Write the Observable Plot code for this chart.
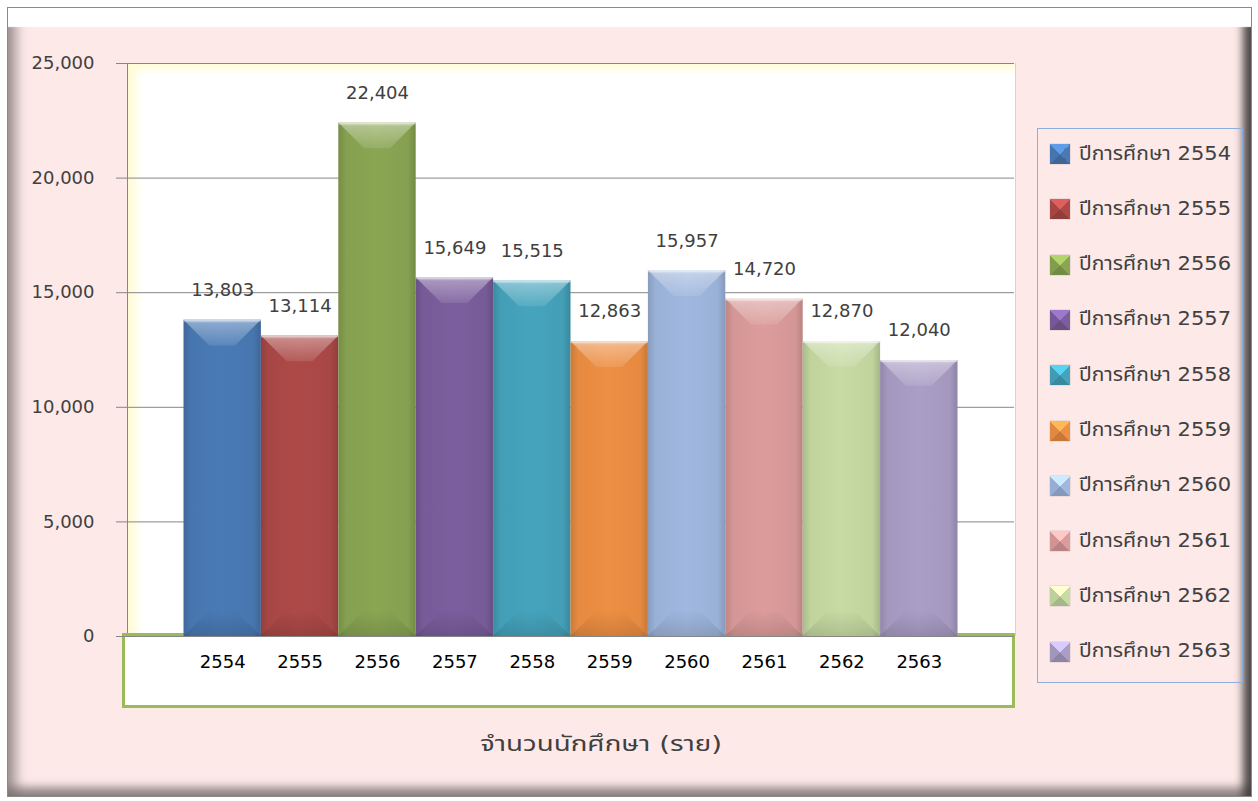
<!DOCTYPE html>
<html><head><meta charset="utf-8">
<script src="https://cdn.jsdelivr.net/npm/d3@7"></script>
<script src="https://cdn.jsdelivr.net/npm/@observablehq/plot@0.6"></script>
<style>
body{margin:0;width:1258px;height:801px;background:#fff;overflow:hidden;position:relative;font-family:"DejaVu Sans","Noto Sans Thai",Tahoma,sans-serif;}
#frame{position:absolute;left:7px;top:7px;width:1243px;height:788px;background:#fde9e8;border:1px solid #8a8a8a;
 box-shadow: inset 0 21px 1px -2px #ffffff, inset 16px 0 12px -8px rgba(120,110,110,0.7), inset -12px 0 8px -4px rgba(60,55,55,0.9), inset 0 -14px 8px -5px rgba(120,110,110,0.75);}
#plotbg{position:absolute;left:127px;top:63px;width:887px;height:573px;background:#fff;border-left:1px solid #868686;border-right:1px solid #d6d6c4;
 box-shadow: inset 14px 12px 10px -6px #fffbd6;}
#xbox{position:absolute;left:122px;top:633px;width:887px;height:69px;background:#fff;border:3px solid #9bbb59;}
#chart{position:absolute;left:0;top:0;}
#legend{position:absolute;left:1037px;top:128px;width:204px;height:553px;border:1px solid #8eaedb;}
.item{position:absolute;left:12px;height:24px;display:flex;align-items:center;font-size:19px;color:#404040;white-space:nowrap;}
.sw{width:20px;height:20px;margin-right:9px;box-shadow:0 0 1px rgba(0,0,0,0.4);}
.item span{display:inline-block;transform-origin:left center;}
#xtitle{position:absolute;left:0;width:1203px;top:728px;text-align:center;font-size:22px;color:#404040;}
#xtitle span{display:inline-block;}
</style></head>
<body>
<div id="frame"></div>
<div id="plotbg"></div>
<div id="xbox"></div>
<div id="chart"></div>
<div id="legend"></div>
<div id="xtitle"><span></span></div>
<script>
const years = ["2554","2555","2556","2557","2558","2559","2560","2561","2562","2563"];
const students = [13803, 13114, 22404, 15649, 15515, 12863, 15957, 14720, 12870, 12040];
const barColors = ["#4a7ab5","#ad4a47","#8aa653","#7b5e9e","#45a4bd","#ee8f43","#a0b7df","#dc9c9b","#c7dba3","#aa9ec6"];
const legendPrefix = "ปีการศึกษา";
const yTicks = [0, 5000, 10000, 15000, 20000, 25000];
const axisTitle = "จำนวนนักศึกษา (ราย)";

const data = years.map((y, i) => ({year: y, value: students[i]}));
const fmt = d3.format(",");
const fontFam = getComputedStyle(document.body).fontFamily;

const chart = Plot.plot({
  width: 1258, height: 801,
  marginLeft: 127, marginRight: 244, marginTop: 63, marginBottom: 165,
  style: {background: "transparent", fontFamily: fontFam},
  x: {domain: years, paddingInner: 0, paddingOuter: 0.73, round: false, axis: null, label: null},
  y: {domain: [0, 25000], axis: null, label: null},
  color: {domain: years, range: years.map((_, i) => `url(#bar${i})`)},
  marks: [
    Plot.gridY(yTicks, {stroke: "#868686", strokeOpacity: 1}),
    Plot.barY(data, {x: "year", y: "value", fill: "year"}),
    Plot.text(data, {x: "year", y: "value", text: d => fmt(d.value), dy: -30, fontSize: 18, fill: "#404040"}),
    Plot.axisY(yTicks, {tickSize: 11, tickPadding: 22, tickFormat: fmt, fontSize: 18, stroke: "#868686", fill: "#404040", label: null}),
    Plot.axisX({tickSize: 0, tickPadding: 19, fontSize: 18, fill: "#000", label: null})
  ]
});
document.getElementById("chart").appendChild(chart);

// gradients for the bars
const svg = d3.select(chart);
const defs = svg.insert("defs", ":first-child");
barColors.forEach((c, i) => {
  const base = d3.color(c);
  const g = defs.append("linearGradient").attr("id", `bar${i}`).attr("x1", 0).attr("x2", 1).attr("y1", 0).attr("y2", 0);
  g.append("stop").attr("offset", "0%").attr("stop-color", base.darker(0.45));
  g.append("stop").attr("offset", "10%").attr("stop-color", base.darker(0.1));
  g.append("stop").attr("offset", "50%").attr("stop-color", base);
  g.append("stop").attr("offset", "90%").attr("stop-color", base.darker(0.1));
  g.append("stop").attr("offset", "100%").attr("stop-color", base.darker(0.5));
});
const hi = defs.append("linearGradient").attr("id", "hi").attr("x1", 0).attr("x2", 0).attr("y1", 0).attr("y2", 1);
hi.append("stop").attr("offset", "0%").attr("stop-color", "#fff").attr("stop-opacity", 0.6);
hi.append("stop").attr("offset", "15%").attr("stop-color", "#fff").attr("stop-opacity", 0.35);
hi.append("stop").attr("offset", "100%").attr("stop-color", "#fff").attr("stop-opacity", 0.1);
const lo = defs.append("linearGradient").attr("id", "lo").attr("x1", 0).attr("x2", 0).attr("y1", 0).attr("y2", 1);
lo.append("stop").attr("offset", "0%").attr("stop-color", "#000").attr("stop-opacity", 0.0);
lo.append("stop").attr("offset", "100%").attr("stop-color", "#000").attr("stop-opacity", 0.12);

svg.selectAll('g[aria-label="bar"] rect').each(function() {
  const r = d3.select(this);
  const x = +r.attr("x"), y = +r.attr("y"), w = +r.attr("width"), h = +r.attr("height");
  const d = Math.min(26, w / 3, h / 2);
  const p = d3.select(this.parentNode);
  p.append("polygon").attr("points", `${x},${y} ${x+w},${y} ${x+w-d},${y+d} ${x+d},${y+d}`).attr("fill", "url(#hi)");
  p.append("polygon").attr("points", `${x},${y+h} ${x+w},${y+h} ${x+w-d},${y+h-d} ${x+d},${y+h-d}`).attr("fill", "url(#lo)");
  p.append("rect").attr("x", x).attr("y", y).attr("width", w).attr("height", 2).attr("fill", "#fff").attr("fill-opacity", 0.35);
});

// legend
const legend = d3.select("#legend");
years.forEach((y, i) => {
  const c = d3.color(barColors[i]);
  const light = c.brighter(0.7), dark = c.darker(0.5);
  const it = legend.append("div").attr("class", "item").style("top", `${13 + i * 55.3}px`);
  it.append("div").attr("class", "sw")
    .style("background", `conic-gradient(from -45deg, ${light} 0deg 90deg, ${c} 90deg 180deg, ${dark} 180deg 270deg, ${c.darker(0.15)} 270deg 360deg)`);
  it.append("span").text(`${legendPrefix} ${y}`);
});
// stretch texts horizontally to the reference widths
legend.selectAll(".item span").each(function() {
  const w = this.getBoundingClientRect().width;
  if (w > 0) this.style.transform = `scaleX(${152 / w})`;
});
const xt = document.querySelector("#xtitle span");
xt.textContent = axisTitle;
const xw = xt.getBoundingClientRect().width;
if (xw > 0) xt.style.transform = `scaleX(${242 / xw})`;
</script>
</body></html>
